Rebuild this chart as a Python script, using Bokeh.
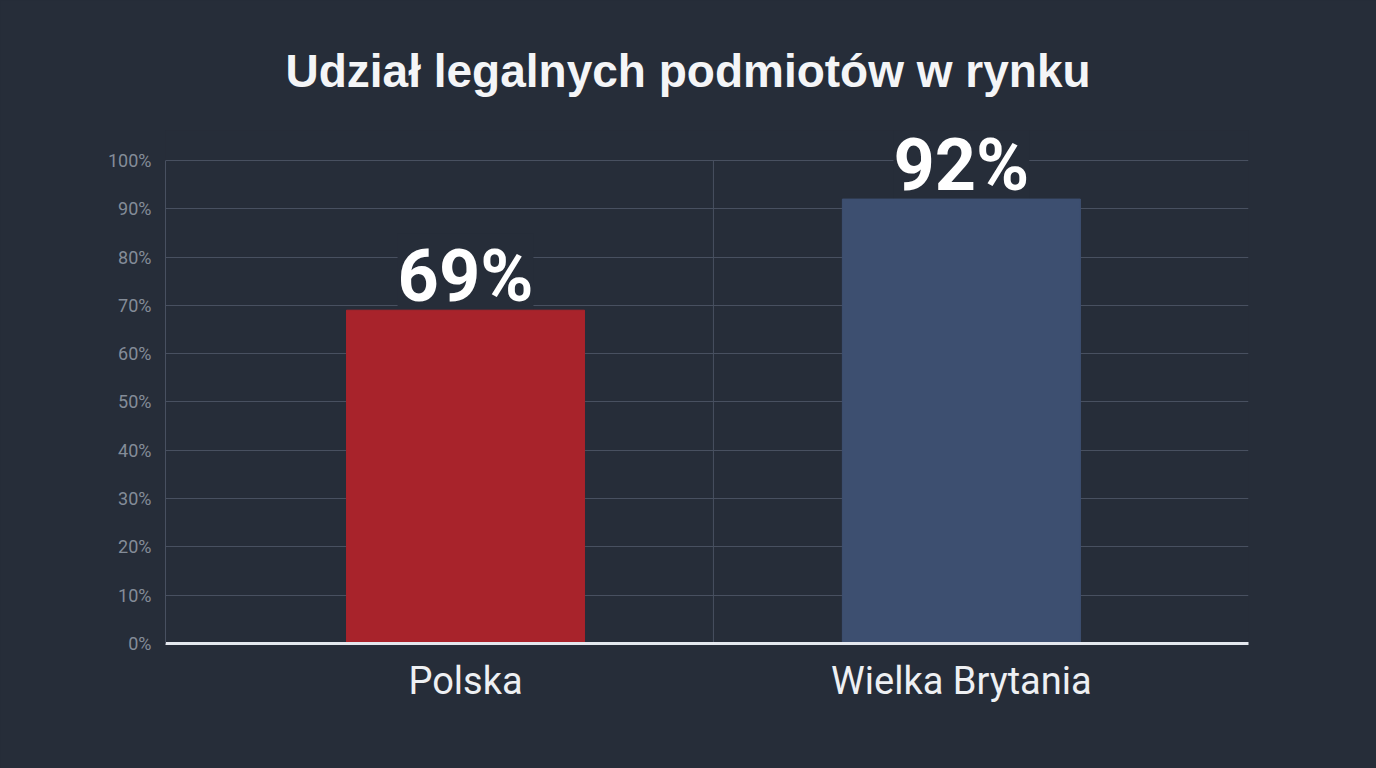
from bokeh.plotting import figure
from bokeh.models import ColumnDataSource, Label, FixedTicker, Range1d
from bokeh.embed import file_html
from bokeh.resources import INLINE

# ---- data ----
categories = ["Polska", "Wielka Brytania"]
values = [69, 92]
value_labels = ["69%", "92%"]
bar_colors = ["#a8232b", "#3d4f70"]
y_ticks = [0, 10, 20, 30, 40, 50, 60, 70, 80, 90, 100]
y_tick_labels = ["0%", "10%", "20%", "30%", "40%", "50%", "60%", "70%", "80%", "90%", "100%"]
title_text = "Udział legalnych podmiotów w rynku"

BG = "#262d39"
GRID = "#485060"
FONT = "Roboto"

idx = list(range(len(categories)))
src = ColumnDataSource(dict(x=idx, top=values, label=value_labels, color=bar_colors))

# headroom above 100% so the value labels are not clipped
p = figure(width=1376, height=768, output_backend="svg", toolbar_location=None,
           x_range=Range1d(-0.605, 1.579), y_range=Range1d(0, 106.2),
           min_border_left=165, min_border_right=128, min_border_top=130, min_border_bottom=125,
           background_fill_color=BG, border_fill_color=BG, outline_line_color=None)

# category divider line (between the two categories), limited to 0-100%
mid = [(idx[i] + idx[i + 1]) / 2 for i in range(len(idx) - 1)]
p.segment(x0=mid, x1=mid, y0=[y_ticks[0]] * len(mid), y1=[y_ticks[-1]] * len(mid),
          line_color=GRID, line_width=1)

# value labels (drawn under the bars so their masks never cover a bar)
for xi, v, lab in zip(idx, values, value_labels):
    p.add_layout(Label(x=xi, y=v, text=lab, text_align="center",
                       text_baseline="alphabetic", y_offset=34, text_font=FONT,
                       text_font_size="72px", text_font_style="bold", text_color="#ffffff",
                       background_fill_color=BG, level="underlay"))

p.vbar(x="x", top="top", width=0.48, color="color", source=src)

# grids
p.xgrid.grid_line_color = None
p.ygrid.ticker = FixedTicker(ticks=y_ticks)
p.ygrid.grid_line_color = GRID

# x axis
p.xaxis.ticker = FixedTicker(ticks=idx)
p.xaxis.major_label_overrides = {i: c for i, c in zip(idx, categories)}
p.xaxis.axis_line_color = "#e4e8ee"
p.xaxis.axis_line_width = 3
p.xaxis.major_tick_line_color = None
p.xaxis.minor_tick_line_color = None
p.xaxis.major_label_text_font = FONT
p.xaxis.major_label_text_font_size = "38px"
p.xaxis.major_label_text_color = "#eef0f3"
p.xaxis.major_label_standoff = 9

# y axis
p.yaxis.ticker = FixedTicker(ticks=y_ticks)
p.yaxis.bounds = (y_ticks[0], y_ticks[-1])
p.yaxis.major_label_overrides = {t: l for t, l in zip(y_ticks, y_tick_labels)}
p.yaxis.axis_line_color = GRID
p.yaxis.major_tick_line_color = None
p.yaxis.minor_tick_line_color = None
p.yaxis.major_label_text_font = FONT
p.yaxis.major_label_text_font_size = "18px"
p.yaxis.major_label_text_color = "#848c98"
p.yaxis.major_label_standoff = 8

p.title.text = title_text
p.title.align = "left"
p.title.offset = 120
p.title.standoff = 67
p.title.text_font = "Liberation Sans"
p.title.text_font_size = "46px"
p.title.text_font_style = "bold"
p.title.text_color = "#f4f5f7"

html = file_html(p, INLINE)
html = html.replace("</head>", "<style>html,body{background:%s;margin:0;}</style></head>" % BG, 1)
open("out.html", "w").write(html)
